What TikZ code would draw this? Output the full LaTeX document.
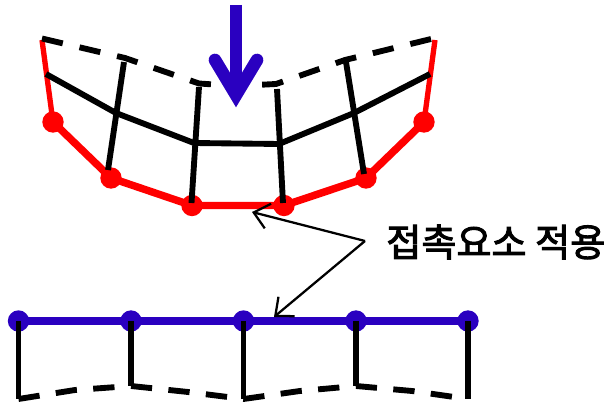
\documentclass[tikz,border=0pt]{standalone}
\usepackage{fontspec}
\usetikzlibrary{arrows.meta}
\newfontfamily\cjkfont[FakeBold=2.6]{Noto Sans CJK KR}
\definecolor{ctred}{HTML}{FF0000}
\definecolor{ctblue}{HTML}{2A00C0}

\begin{document}
\begin{tikzpicture}[
  x=0.75pt, y=-0.75pt,
  reddot/.style   = {circle, fill=ctred, inner sep=0pt, minimum size=16pt},
  bluedot/.style  = {circle, fill=ctblue, inner sep=0pt, minimum size=16pt},
  redline/.style  = {draw=ctred, line width=5.6pt, line join=round},
  blueline/.style = {draw=ctblue, line width=5.4pt},
  mesh/.style     = {draw=black, line width=4.4pt, line join=round},
  surf/.style     = {mesh, line join=miter, dash pattern=on 16pt off 12.3pt},
  topsurf/.style  = {mesh, line join=miter, dash pattern=on 16pt off 12.9pt},
  load/.style     = {draw=ctblue, line width=9.5pt, line cap=round, miter limit=10},
  callout/.style  = {-{Straight Barb[length=11pt,width=19pt,line width=1.7pt]},
                     draw=black, line width=1.7pt},
  lab/.style      = {font=\cjkfont\fontsize{28.6}{31}\selectfont,
                     inner sep=0pt, text=black},
]
\useasboundingbox (0,0) rectangle (608,402);
\coordinate (c0) at (42,40);
\coordinate (c5) at (435,40);
\node[reddot] (r0) at (53,122) {};
\node[reddot] (r1) at (111,178) {};
\node[reddot] (r2) at (192,205.5) {};
\node[reddot] (r3) at (284,205.5) {};
\node[reddot] (r4) at (366,178) {};
\node[reddot] (r5) at (424,122) {};
\draw[draw=ctred, line width=4pt] (c0) -- (r0.center);
\draw[draw=ctred, line width=4pt] (c5) -- (r5.center);
\draw[redline] (r0.center) -- (r1.center) -- (r2.center) -- (r3.center)
  -- (r4.center) -- (r5.center);
\coordinate (t0) at (42,38.5);
\coordinate (t1) at (125,58);
\coordinate (t2) at (199,83.5);
\coordinate (t3) at (236,86);
\coordinate (t4) at (276,84);
\coordinate (t5) at (345,60);
\coordinate (t6) at (431,39);
\draw[topsurf] (t0) -- (t1) -- (t2) -- (t3);
\draw[topsurf] (t6) -- (t5) -- (t4) -- (t3);
\coordinate (m0) at (46,74);
\coordinate (m1) at (116,113);
\coordinate (m2) at (194,143);
\coordinate (m3) at (279,144);
\coordinate (m4) at (354,113);
\coordinate (m5) at (430,74);
\draw[mesh] (m0) -- (m1) -- (m2) -- (m3) -- (m4) -- (m5);
\coordinate (v1) at (124,62);
\coordinate (v2) at (199,87);
\coordinate (v3) at (277,89);
\coordinate (v4) at (346,62);
\coordinate (w1) at (108,170);
\coordinate (w2) at (191.5,203);
\coordinate (w3) at (283,203);
\coordinate (w4) at (364,174);
\draw[mesh] (v1) -- (w1);
\draw[mesh] (v2) -- (w2);
\draw[mesh] (v3) -- (w3);
\draw[mesh] (v4) -- (w4);
\coordinate (a0) at (236,5);
\coordinate (a1) at (236,95);
\coordinate (a2) at (215,60);
\coordinate (a3) at (257,60);
\draw[draw=ctblue, line width=9.5pt] (a0) -- (a1);
\draw[load] (a2) -- (a1) -- (a3);
\node[bluedot] (b0) at (18.5,321) {};
\node[bluedot] (b1) at (131,321) {};
\node[bluedot] (b2) at (243.5,321) {};
\node[bluedot] (b3) at (356,321) {};
\node[bluedot] (b4) at (468,321) {};
\draw[blueline] (b0.center) -- (b1.center) -- (b2.center) -- (b3.center) -- (b4.center);
\coordinate (f0) at (18.5,399);
\coordinate (f1) at (75,390);
\coordinate (f2) at (131,386);
\coordinate (f3) at (188,392);
\coordinate (f4) at (243.5,399);
\coordinate (f5) at (300,391);
\coordinate (f6) at (356,386);
\coordinate (f7) at (412,391);
\coordinate (f8) at (468,399);
\draw[mesh] (b0.center) -- (f0);
\draw[mesh] (b1.center) -- (f2);
\draw[mesh] (b2.center) -- (f4);
\draw[mesh] (b3.center) -- (f6);
\draw[mesh] (b4.center) -- (f8);
\draw[surf] (f0) -- (f1) -- (f2) -- (f3) -- (f4) -- (f5) -- (f6) -- (f7) -- (f8);
\node[lab, anchor=west] (note) at (386,242) {접촉요소 적용};
\coordinate (k0) at (365,241);
\coordinate (k1) at (252,212);
\coordinate (k2) at (274,317);
\draw[callout] (k0) -- (k1);
\draw[callout] (k0) -- (k2);
\end{tikzpicture}
\end{document}
